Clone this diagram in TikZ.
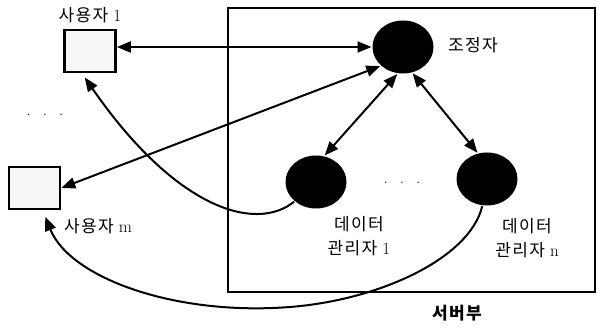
\documentclass[tikz,border=0pt]{standalone}
\usepackage{fontspec}
\newfontfamily\kr{Noto Sans CJK KR}[LetterSpace=8]
\usetikzlibrary{arrows.meta,shapes.geometric}
\begin{document}
\begin{tikzpicture}[x=1pt,y=1pt,>={Triangle[length=14pt,width=11pt]},line width=2pt,font=\fontsize{17}{24}\selectfont]
  \useasboundingbox (0,0) rectangle (597,328);
  \tikzset{
    user/.style={draw,line width=2.6pt,fill=gray!6,minimum width=51pt,minimum height=42pt,inner sep=0pt},
    proc/.style={ellipse,fill=black,minimum width=61pt,minimum height=53pt,inner sep=0pt},
    lab/.style={align=center,inner sep=0pt}
  }

  % 서버부 테두리
  \draw[line width=2.6pt] (228,36) rectangle (595,320);

  % 사용자
  \node[user] (u1) at (90,277) {};
  \node[user] (um) at (34.5,140) {};

  % 조정자와 데이터 관리자
  \node[proc] (coord) at (403,281) {};
  \node[proc] (dm1) at (316,146) {};
  \node[proc] (dmn) at (487,149) {};
  \coordinate (bend) at (290,21);

  % 이름
  \node[lab] (u1lab) at (90,313) {{\kr 사용자} 1};
  \node[lab] (umlab) at (98,102) {{\kr 사용자} m};
  \node[lab] (coordlab) at (473,283) {\kr 조정자};
  \node[lab] (dm1lab) at (359,92) {{\kr 데이터}\\{\kr 관리자} 1};
  \node[lab] (dmnlab) at (527,90) {{\kr 데이터}\\{\kr 관리자} n};
  \node[lab] (srvlab) at (457,15) {\kr\bfseries 서버부};
  \node (ldots) at (45,213) {.\hspace{12pt}.\hspace{12pt}.};
  \node (mdots) at (402,145) {.\hspace{12pt}.\hspace{12pt}.};

  % 연결
  \draw[<->] (u1.east |- coord.west) -- (coord.west);
  \draw[<->] (coord.220) -- (um.east);
  \draw[<->] (coord.258) -- (dm1.72);
  \draw[<->] (coord.290) -- (dmn.110);
  \draw[->,shorten >=5pt] (dm1.222) .. controls (255,95) and (175,120) .. (u1.250);
  \draw[->,shorten >=7pt] (dmn.260) .. controls (470,70) and (380,28) .. (bend)
    .. controls (175,12) and (70,50) .. (um.290);
\end{tikzpicture}
\end{document}
